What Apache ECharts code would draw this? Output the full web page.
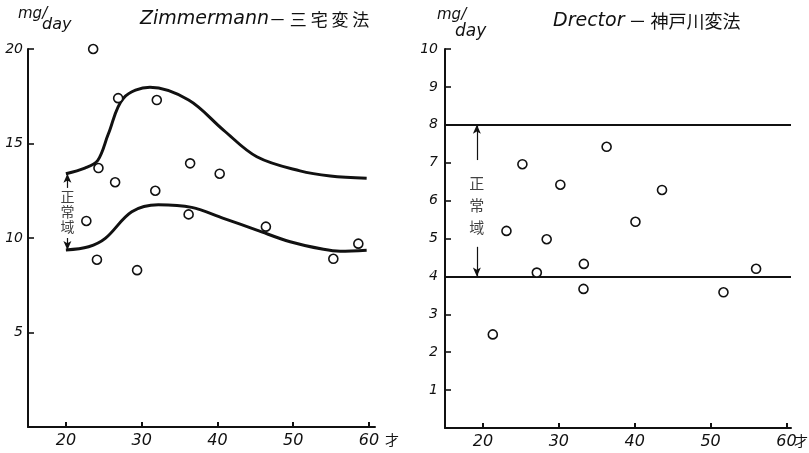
<!DOCTYPE html>
<html>
<head>
<meta charset="utf-8">
<script src="https://cdn.jsdelivr.net/npm/echarts@6/dist/echarts.min.js"></script>
<style>
  html, body { margin: 0; padding: 0; background: #fff; }
  #chart { width: 809px; height: 453px; }
</style>
</head>
<body>
<div id="chart"></div>
<script>
// Zimmermann–三宅変法: individual results (age in years, mg/day)
const zimAge = [23.6, 26.9, 32.0, 24.3, 26.5, 22.7, 24.1, 29.4, 31.8, 36.4, 36.2, 40.3, 46.4, 55.3, 58.6];
const zimVal = [20.0, 17.4, 17.3, 13.7, 12.95, 10.9, 8.85, 8.3, 12.5, 13.95, 11.25, 13.4, 10.6, 8.9, 9.7];

// Zimmermann: upper and lower bounds of the normal range
const zimUpperAge = [20.0, 22.5, 24.2, 25.6, 27.6, 31.1, 36.2, 40.8, 45.2, 50.9, 54.9, 59.7];
const zimUpperVal = [13.4, 13.7, 14.1, 15.5, 17.4, 17.97, 17.3, 15.71, 14.3, 13.55, 13.28, 13.16];
const zimLowerAge = [20.0, 23.0, 25.2, 28.7, 32.2, 36.6, 40.8, 45.2, 49.6, 54.0, 56.2, 59.7];
const zimLowerVal = [9.37, 9.54, 9.98, 11.39, 11.76, 11.62, 11.04, 10.42, 9.8, 9.4, 9.3, 9.35];

// Drector–神戸川変法: individual results
const drAge = [21.3, 23.1, 25.2, 27.1, 28.4, 30.2, 33.3, 33.25, 36.3, 40.1, 43.6, 51.7, 56.0];
const drVal = [2.47, 5.2, 6.96, 4.1, 4.98, 6.42, 4.33, 3.67, 7.42, 5.44, 6.28, 3.58, 4.2];

// Drector normal range limits
const drNormalLow = 4;
const drNormalHigh = 8;

// Normal-range bracket placement (age, and the value where the label sits)
const zimBracketAge = 20.2;
const zimBracketLabelVal = 11.37;
const zimBracketGap = [12.65, 10.0];   // arrow shafts stop here (above / below label)
const drBracketAge = 19.2;
const drBracketLabelVal = 5.88;
const drBracketGap = [7.07, 4.78];

// Axis tick values
const ageTicks = [20, 30, 40, 50, 60];

const ink = '#111';
const latin = 'DejaVu Sans';
const cjk = '"Noto Sans CJK JP"';

const zip = (xs, ys) => xs.map((x, i) => [x, ys[i]]);

function xAxisCfg(gridIndex, max, nameGap) {
  return {
    gridIndex, type: 'value', min: 15, max,
    name: '才', nameLocation: 'end', nameGap, nameMoveOverlap: false,
    nameTextStyle: { color: ink, fontSize: 14, fontFamily: cjk, verticalAlign: 'top', padding: [6, 0, 0, 0] },
    axisLine: { lineStyle: { color: ink, width: 2 } },
    axisTick: { show: true, inside: true, length: 5, customValues: ageTicks, lineStyle: { color: ink, width: 2 } },
    axisLabel: { customValues: ageTicks, color: ink, fontSize: 16, fontStyle: 'italic', fontFamily: latin, margin: 6 },
    splitLine: { show: false }
  };
}
function yAxisCfg(gridIndex, max, interval, margin) {
  return {
    gridIndex, type: 'value', min: 0, max, interval,
    axisLine: { show: true, lineStyle: { color: ink, width: 2 } },
    axisTick: { show: true, inside: true, length: 6, lineStyle: { color: ink, width: 1.6 } },
    axisLabel: { color: ink, fontSize: 14, fontStyle: 'italic', fontFamily: latin, margin,
                 formatter: v => (v === 0 ? '' : String(v)) },
    splitLine: { show: false }
  };
}

const dotStyle = { color: '#fff', borderColor: ink, borderWidth: 1.6, opacity: 1 };
const curveStyle = { color: ink, width: 3 };
const arrowLine = { color: ink, width: 1.2, type: 'solid' };

function bracket(xi, yi, age, labelVal, gap, top, bottom, fontSize, lineHeight) {
  return {
    type: 'scatter', xAxisIndex: xi, yAxisIndex: yi, silent: true, z: 5,
    symbolSize: 0,
    data: [[age, labelVal]],
    label: {
      show: true, position: 'inside', formatter: '正\n常\n域',
      color: ink, fontSize, lineHeight, fontFamily: cjk,
      backgroundColor: '#fff', padding: [1, 0]
    },
    markLine: {
      silent: true, symbol: ['none', 'arrow'], symbolSize: [6, 9],
      lineStyle: arrowLine, label: { show: false }, z: 4,
      data: [
        [{ coord: [age, gap[0]] }, { coord: [age, top] }],
        [{ coord: [age, gap[1]] }, { coord: [age, bottom] }]
      ]
    }
  };
}

const chart = echarts.init(document.getElementById('chart'), null, { renderer: 'canvas' });
chart.setOption({
  animation: false,
  backgroundColor: '#fff',
  grid: [
    { left: 28, top: 49, width: 347, height: 378, outerBoundsMode: 'none' },
    { left: 445, top: 49, width: 346, height: 379, outerBoundsMode: 'none' }
  ],
  xAxis: [xAxisCfg(0, 60.8, 10), xAxisCfg(1, 60.6, 3)],
  yAxis: [yAxisCfg(0, 20, 5, 5), yAxisCfg(1, 10, 1, 7)],
  series: [
    { type: 'line', xAxisIndex: 0, yAxisIndex: 0, data: zip(zimUpperAge, zimUpperVal),
      smooth: 0.35, showSymbol: false, silent: true, lineStyle: curveStyle },
    { type: 'line', xAxisIndex: 0, yAxisIndex: 0, data: zip(zimLowerAge, zimLowerVal),
      smooth: 0.35, showSymbol: false, silent: true, lineStyle: curveStyle },
    { type: 'scatter', xAxisIndex: 0, yAxisIndex: 0, data: zip(zimAge, zimVal),
      symbol: 'circle', symbolSize: 9, itemStyle: dotStyle, z: 6 },
    bracket(0, 0, zimBracketAge, zimBracketLabelVal, zimBracketGap,
            zimUpperVal[0], zimLowerVal[0], 14, 15),

    { type: 'scatter', xAxisIndex: 1, yAxisIndex: 1, data: zip(drAge, drVal),
      symbol: 'circle', symbolSize: 9, itemStyle: dotStyle, z: 6,
      markLine: {
        silent: true, symbol: 'none', label: { show: false },
        lineStyle: { color: ink, width: 2, type: 'solid' },
        data: [{ yAxis: drNormalHigh }, { yAxis: drNormalLow }]
      } },
    bracket(1, 1, drBracketAge, drBracketLabelVal, drBracketGap,
            drNormalHigh, drNormalLow, 15, 22)
  ],
  graphic: [
    { type: 'text', x: 140, y: 10, style: {
        text: '{a|Zimmermann}{b|－ 三 宅 変 法}', fill: ink,
        rich: {
          a: { fontSize: 19, fontStyle: 'italic', fontFamily: latin, fill: ink },
          b: { fontSize: 17, fontFamily: cjk, fill: ink }
        } } },
    { type: 'text', x: 553, y: 12, style: {
        text: '{a|Drector}{b| － 神戸川変法}', fill: ink,
        rich: {
          a: { fontSize: 19, fontStyle: 'italic', fontFamily: latin, fill: ink },
          b: { fontSize: 18, fontFamily: cjk, fill: ink }
        } } },
    { type: 'text', x: 18, y: 7, style: { text: 'mg/', fill: ink, font: 'italic 15px "DejaVu Sans"' } },
    { type: 'text', x: 42, y: 17, style: { text: 'day', fill: ink, font: 'italic 16px "DejaVu Sans"' } },
    { type: 'text', x: 437, y: 8, style: { text: 'mg/', fill: ink, font: 'italic 15px "DejaVu Sans"' } },
    { type: 'text', x: 455, y: 23, style: { text: 'day', fill: ink, font: 'italic 17px "DejaVu Sans"' } }
  ]
});
</script>
</body>
</html>
